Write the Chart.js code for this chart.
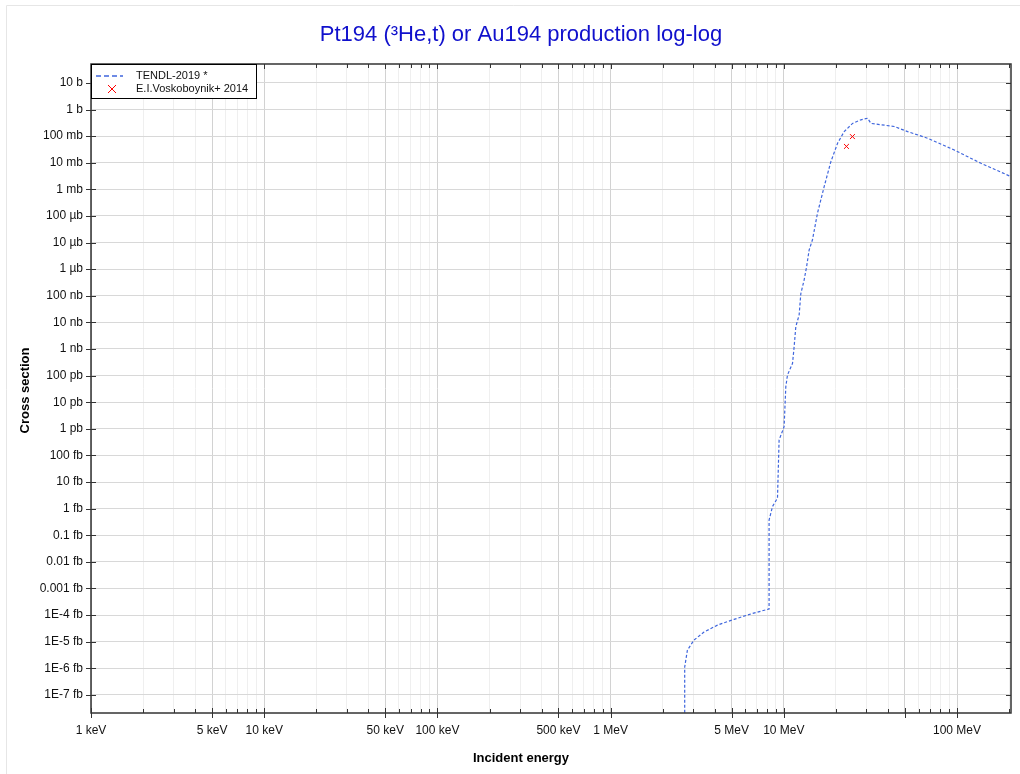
<!DOCTYPE html>
<html lang="en">
<head>
  <meta charset="UTF-8" />
  <title>Pt194 (3He,t) or Au194 production log-log</title>
  <script src="https://cdn.jsdelivr.net/npm/chart.js"></script>
  <style>
    * { box-sizing: border-box; }
    body { margin: 0; background: #fff; }
    #wrap { width: 1020px; height: 774px; }
  </style>
</head>
<body>
  <div id="wrap"><canvas id="grafico" width="1020" height="774"></canvas></div>

  <script>
    // TENDL-2019 curve: energy in MeV, cross section in barns
    const tendlEnergy = [2.678, 2.678, 2.776, 3.030, 3.462, 4.139, 5.161, 6.446, 8.222, 8.222,
      8.604, 9.195, 9.394, 10.04, 10.27, 10.50, 11.23, 11.47, 11.73, 12.26, 12.54, 13.10, 13.53,
      14.00, 14.65, 15.66, 17.10, 18.70, 20.44, 22.31, 24.95, 27.87, 30.47, 31.84, 43.41, 51.88,
      67.70, 96.47, 137.6, 200.6];
    const tendlSigma = [1e-30, 1.12e-21, 4.8e-21, 1.15e-20, 2.3e-20, 4.2e-20, 6.9e-20, 1.1e-19, 1.7e-19, 3.7e-16,
      1.2e-15, 2.5e-15, 3.8e-13, 1.2e-12, 3.8e-11, 1.05e-10, 2.9e-10, 1.2e-9, 6.9e-9, 1.9e-8, 1.2e-7, 3.9e-7, 1.2e-6,
      5.2e-6, 1.3e-5, 1.3e-4, 1.26e-3, 0.011, 0.054, 0.148, 0.30, 0.41, 0.47, 0.30, 0.23, 0.148,
      0.083, 0.030, 0.0095, 0.0032];

    // E.I.Voskoboynik+ 2014
    const expEnergy = [23.0, 24.9];
    const expSigma = [0.041, 0.096];

    const seriesLabels = ['TENDL-2019 *', 'E.I.Voskoboynik+ 2014'];
    const xLabelled = ['1 keV', '5 keV', '10 keV', '50 keV', '100 keV', '500 keV', '1 MeV', '5 MeV', '10 MeV', '100 MeV'];

    const FONT = '"Liberation Sans", Arial, sans-serif';
    const xMin = 0.001, xMax = 205;
    const yMin = Math.pow(10, -22.68), yMax = Math.pow(10, 1.71);

    function energyLabel(v) {
      if (v < 1) return Math.round(v * 1000) + ' keV';
      return Math.round(v) + ' MeV';
    }

    function sigmaLabel(v) {
      const e = Math.round(Math.log10(v));
      const units = [[0, 'b'], [-3, 'mb'], [-6, 'µb'], [-9, 'nb'], [-12, 'pb'], [-15, 'fb']];
      for (const [base, u] of units) {
        if (e >= base) return Math.pow(10, e - base).toFixed(0) + ' ' + u;
      }
      const k = e + 15;
      if (k >= -3) return Math.pow(10, k).toFixed(-k) + ' fb';
      return '1E' + k + ' fb';
    }

    function mantissa(v) {
      return Math.round(v / Math.pow(10, Math.floor(Math.log10(v) + 1e-9)));
    }

    const marcoPlugin = {
      id: 'marco',
      beforeDraw(chart) {
        const ctx = chart.ctx;
        ctx.save();
        ctx.strokeStyle = '#e6e6e6';
        ctx.lineWidth = 1;
        ctx.beginPath();
        ctx.moveTo(6.5, 774);
        ctx.lineTo(6.5, 5.5);
        ctx.lineTo(1020, 5.5);
        ctx.stroke();
        ctx.restore();
      },
      afterDraw(chart) {
        const ctx = chart.ctx;
        const a = chart.chartArea;
        const xs = chart.scales.x, ys = chart.scales.y;
        ctx.save();
        // ticks
        ctx.strokeStyle = '#333';
        ctx.lineWidth = 1;
        ctx.beginPath();
        xs.ticks.forEach(t => {
          const px = Math.round(xs.getPixelForValue(t.value)) + 0.5;
          const m = mantissa(t.value);
          const major = m === 1 || m === 5;
          ctx.moveTo(px, a.bottom - (major ? 5 : 4));
          ctx.lineTo(px, a.bottom + (major ? 5 : 0));
          ctx.moveTo(px, a.top);
          ctx.lineTo(px, a.top + (major ? 5 : 4));
        });
        ys.ticks.forEach(t => {
          const py = Math.round(ys.getPixelForValue(t.value)) + 0.5;
          ctx.moveTo(a.left - 5, py);
          ctx.lineTo(a.left + 5, py);
          ctx.moveTo(a.right - 5, py);
          ctx.lineTo(a.right, py);
        });
        ctx.stroke();
        // frame
        ctx.strokeStyle = '#333';
        ctx.lineWidth = 1.5;
        ctx.strokeRect(a.left, a.top, a.right - a.left, a.bottom - a.top);

        // titles
        ctx.fillStyle = '#1010cc';
        ctx.font = '22px ' + FONT;
        ctx.textAlign = 'center';
        ctx.textBaseline = 'middle';
        ctx.fillText('Pt194 (³He,t) or Au194 production log-log', 521, 35);
        ctx.fillStyle = '#000';
        ctx.font = 'bold 13px ' + FONT;
        ctx.fillText('Incident energy', 521, 758);
        ctx.save();
        ctx.translate(25, (a.top + a.bottom) / 2 + 2);
        ctx.rotate(-Math.PI / 2);
        ctx.fillText('Cross section', 0, 0);
        ctx.restore();

        // legend
        const lx = a.left, ly = a.top;
        ctx.fillStyle = '#fff';
        ctx.fillRect(lx, ly, 165, 34);
        ctx.strokeStyle = '#000';
        ctx.lineWidth = 1;
        ctx.strokeRect(lx + 0.5, ly + 0.5, 165, 34);
        const ds = chart.data.datasets;
        ctx.strokeStyle = ds[0].borderColor;
        ctx.lineWidth = 1.5;
        ctx.setLineDash([5, 3]);
        ctx.beginPath();
        ctx.moveTo(lx + 5, ly + 12);
        ctx.lineTo(lx + 32, ly + 12);
        ctx.stroke();
        ctx.setLineDash([]);
        ctx.strokeStyle = ds[1].borderColor;
        ctx.lineWidth = 1;
        const cx = lx + 21, cy = ly + 25;
        ctx.beginPath();
        ctx.moveTo(cx - 4, cy - 4); ctx.lineTo(cx + 4, cy + 4);
        ctx.moveTo(cx + 4, cy - 4); ctx.lineTo(cx - 4, cy + 4);
        ctx.stroke();
        ctx.fillStyle = '#111';
        ctx.font = '11px ' + FONT;
        ctx.textAlign = 'left';
        ctx.fillText(ds[0].label, lx + 45, ly + 12);
        ctx.fillText(ds[1].label, lx + 45, ly + 25);
        ctx.restore();
      }
    };

    new Chart(document.getElementById('grafico'), {
      type: 'scatter',
      data: {
        datasets: [
          {
            label: seriesLabels[0],
            data: tendlEnergy.map((e, i) => ({ x: e, y: tendlSigma[i] })),
            showLine: true,
            borderColor: '#3f66dd',
            borderWidth: 1.2,
            borderDash: [3, 2],
            pointRadius: 0,
            tension: 0
          },
          {
            label: seriesLabels[1],
            data: expEnergy.map((e, i) => ({ x: e, y: expSigma[i] })),
            borderColor: '#ff0000',
            backgroundColor: '#ff0000',
            borderWidth: 1,
            pointStyle: 'crossRot',
            pointRadius: 3.5
          }
        ]
      },
      options: {
        responsive: false,
        animation: false,
        layout: { padding: { top: 64, right: 9, left: 0, bottom: 0 } },
        plugins: {
          legend: { display: false },
          title: { display: false },
          tooltip: { enabled: false }
        },
        scales: {
          x: {
            type: 'logarithmic',
            min: xMin,
            max: xMax,
            border: { display: false },
            grid: {
              drawTicks: false,
              color: ctx => {
                const m = mantissa(ctx.tick.value);
                return (m === 1 || m === 5) ? '#d2d2d2' : '#efefef';
              }
            },
            afterBuildTicks: scale => {
              const t = [];
              for (let d = -3; d <= 2; d++) {
                for (let m = 1; m <= 9; m++) {
                  const v = m * Math.pow(10, d);
                  if (v >= xMin && v <= xMax) t.push({ value: v });
                }
              }
              scale.ticks = t;
            },
            afterFit: scale => { scale.height = 61; },
            ticks: {
              autoSkip: false,
              maxRotation: 0,
              padding: 10,
              color: '#111',
              font: { family: FONT, size: 12 },
              callback: v => {
                const l = energyLabel(v);
                return xLabelled.includes(l) ? l : '';
              }
            }
          },
          y: {
            type: 'logarithmic',
            min: yMin,
            max: yMax,
            border: { display: false },
            grid: { drawTicks: false, color: '#d8d8d8' },
            afterBuildTicks: scale => {
              const t = [];
              for (let e = -22; e <= 1; e++) t.push({ value: Math.pow(10, e) });
              scale.ticks = t;
            },
            afterFit: scale => { scale.width = 91; },
            ticks: {
              autoSkip: false,
              padding: 8,
              color: '#111',
              font: { family: FONT, size: 12 },
              callback: v => sigmaLabel(v)
            }
          }
        }
      },
      plugins: [marcoPlugin]
    });
  </script>
</body>
</html>
